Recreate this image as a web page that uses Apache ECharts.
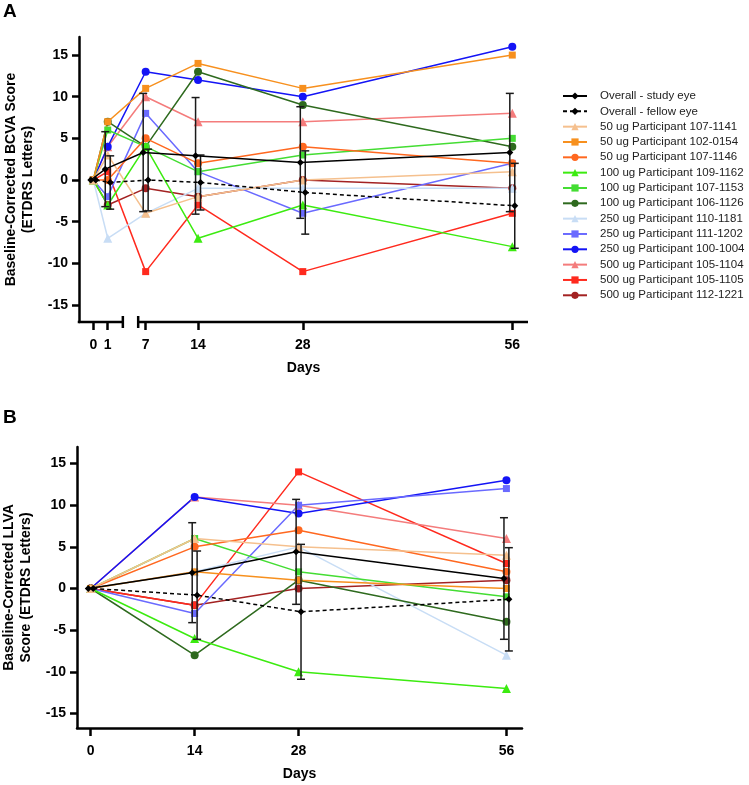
<!DOCTYPE html>
<html><head><meta charset="utf-8">
<script src="https://cdn.jsdelivr.net/npm/echarts@6/dist/echarts.min.js"></script>
<style>html,body{margin:0;padding:0;background:#fff}#c{width:749px;height:785px}</style>
</head><body><div id="c"></div>
<script>
// ---------- DATA ----------
const daysA = [0, 1, 7, 14, 28, 56];
const daysB = [0, 14, 28, 56];
const yTicks = [-15, -10, -5, 0, 5, 10, 15];

const overallNames = ['Overall - study eye', 'Overall - fellow eye'];
const participantNames = [
  '50 ug Participant 107-1141', '50 ug Participant 102-0154', '50 ug Participant 107-1146',
  '100 ug Participant 109-1162', '100 ug Participant 107-1153', '100 ug Participant 106-1126',
  '250 ug Participant 110-1181', '250 ug Participant 111-1202', '250 ug Participant 100-1004',
  '500 ug Participant 105-1104', '500 ug Participant 105-1105', '500 ug Participant 112-1221'
];

// Panel A: BCVA (days 0,1,7,14,28,56)
const studyA = [0, 1.3, 3.3, 2.9, 2.1, 3.3];
const studySdA = [0, 4.5, 7.1, 7.0, 6.7, 7.1];
const fellowA = [0, -0.3, 0, -0.3, -1.5, -3.1];
const fellowSdA = [0, 3.2, 3.7, 3.3, 5.0, 5.1];
const a_107_1141 = [0, 3, -4, -2, 0, 1];
const a_102_0154 = [0, 7, 11, 14, 11, 15];
const a_107_1146 = [0, 0, 5, 2, 4, 2];
const a_109_1162 = [0, -3, 4, -7, -3, -8];
const a_107_1153 = [0, 6, 4, 1, 3, 5];
const a_106_1126 = [0, 7, 4, 13, 9, 4];
const a_110_1181 = [0, -7, -4, -1, -1, -1];
const a_111_1202 = [0, -2, 8, 1, -4, 2];
const a_100_1004 = [0, 4, 13, 12, 10, 16];
const a_105_1104 = [0, 4, 10, 7, 7, 8];
const a_105_1105 = [0, 1, -11, -3, -11, -4];
const a_112_1221 = [0, -3, -1, -2, 0, -1];

// Panel B: LLVA (days 0,14,28,56)
const studyB = [0, 1.9, 4.4, 1.2];
const studySdB = [0, 6.0, 6.3, 7.3];
const fellowB = [0, -0.8, -2.8, -1.3];
const fellowSdB = [0, 5.3, 8.1, 6.2];
const b_107_1141 = [0, 6, 5, 4];
const b_102_0154 = [0, 2, 1, 0];
const b_107_1146 = [0, 5, 7, 2];
const b_109_1162 = [0, -6, -10, -12];
const b_107_1153 = [0, 6, 2, -1];
const b_106_1126 = [0, -8, 1, -4];
const b_110_1181 = [0, 2, 5, -8];
const b_111_1202 = [0, -3, 10, 12];
const b_100_1004 = [0, 11, 9, 13];
const b_105_1104 = [0, 11, 10, 6];
const b_105_1105 = [0, -2, 14, 3];
const b_112_1221 = [0, -2, 0, 1];

// ---------- STYLE ----------
const partA = [a_107_1141, a_102_0154, a_107_1146, a_109_1162, a_107_1153, a_106_1126,
               a_110_1181, a_111_1202, a_100_1004, a_105_1104, a_105_1105, a_112_1221];
const partB = [b_107_1141, b_102_0154, b_107_1146, b_109_1162, b_107_1153, b_106_1126,
               b_110_1181, b_111_1202, b_100_1004, b_105_1104, b_105_1105, b_112_1221];
const partColors = ['#F5C08E', '#F7901E', '#FF6820', '#3CEB10', '#44DD33', '#2E6A1E',
                    '#C8DDF5', '#6A6AFF', '#1414F5', '#F47C7C', '#FF2A1E', '#A32222'];
const partSymbols = ['triangle', 'rect', 'circle', 'triangle', 'rect', 'circle',
                     'triangle', 'rect', 'circle', 'triangle', 'rect', 'circle'];
const FONT = '"Liberation Sans", Arial, sans-serif';
const NUDGE = 0.33;            // horizontal dodge of the two overall series (axis units)
const SEG1 = 1.93;             // width of day 0->1 on the broken axis (axis units)
const BREAK_A = [3.95, 6.0];   // gap of the broken x axis in panel A (axis units)
function posA(d) { return d <= 1 ? d * SEG1 : d; }
function posB(d) { return d; }

const ticksPosA = daysA.map(posA);

function lineSeries(name, xs, ys, gi, color, symbol, size, dashed) {
  return {
    type: 'line', name: name, xAxisIndex: gi, yAxisIndex: gi,
    data: xs.map((x, i) => [x, ys[i]]),
    symbol: symbol, symbolSize: size, color: color,
    itemStyle: { color: color },
    lineStyle: { color: color, width: 1.5, type: dashed ? [4, 3] : 'solid' },
    emphasis: { disabled: true }, z: 2
  };
}
function errSeries(xs, m, s, gi) {
  return {
    type: 'custom', xAxisIndex: gi, yAxisIndex: gi, silent: true, z: 3,
    dimensions: ['x', 'm', 's'], encode: { x: 0, y: 1 },
    data: xs.map((x, i) => [x, m[i], s[i]]),
    renderItem: function (params, api) {
      const x = api.value(0), mm = api.value(1), ss = api.value(2);
      if (!ss) return null;
      const t = api.coord([x, mm + ss]), b = api.coord([x, mm - ss]);
      const w = 4, st = { stroke: '#1a1a1a', lineWidth: 1.5 };
      return { type: 'group', children: [
        { type: 'line', shape: { x1: t[0], y1: t[1], x2: b[0], y2: b[1] }, style: st },
        { type: 'line', shape: { x1: t[0] - w, y1: t[1], x2: t[0] + w, y2: t[1] }, style: st },
        { type: 'line', shape: { x1: b[0] - w, y1: b[1], x2: b[0] + w, y2: b[1] }, style: st }
      ]};
    }
  };
}

function panelSeries(days, posFn, parts, study, studySd, fellow, fellowSd, gi) {
  const xs = days.map(posFn);
  const out = [];
  // earlier legend entries are drawn on top, so add participants in reverse order
  for (let k = parts.length - 1; k >= 0; k--) {
    const sz = partSymbols[k] === 'triangle' ? 9 : (partSymbols[k] === 'rect' ? 7 : 8);
    out.push(lineSeries(participantNames[k], xs, parts[k], gi, partColors[k], partSymbols[k], sz, false));
  }
  const xsS = xs.map(x => x - NUDGE), xsF = xs.map(x => x + NUDGE);
  out.push(errSeries(xsF, fellow, fellowSd, gi));
  out.push(errSeries(xsS, study, studySd, gi));
  const f = lineSeries(overallNames[1], xsF, fellow, gi, '#000', 'diamond', 7, true); f.z = 4;
  const s = lineSeries(overallNames[0], xsS, study, gi, '#000', 'diamond', 7, false); s.z = 4;
  out.push(f, s);
  return out;
}

const axisTxt = { fontFamily: FONT, fontWeight: 'bold', fontSize: 14, color: '#000' };
function yAxisDef(gi, min, max, name, gap) {
  return {
    type: 'value', gridIndex: gi, min: min, max: max,
    name: name, nameLocation: 'middle', nameRotate: 90, nameGap: gap,
    nameTextStyle: Object.assign({ lineHeight: 17 }, axisTxt),
    axisLine: { show: true, onZero: false, lineStyle: { color: '#000', width: 2.5 } },
    axisTick: { show: true, length: 7, customValues: yTicks, lineStyle: { color: '#000', width: 2.5 } },
    axisLabel: Object.assign({ margin: 11, customValues: yTicks }, axisTxt),
    splitLine: { show: false }
  };
}
function xAxisDef(gi, min, max, tickPos, tickLab, showLine) {
  return {
    type: 'value', gridIndex: gi, min: min, max: max,
    name: 'Days', nameLocation: 'middle', nameGap: 39, nameTextStyle: axisTxt,
    axisLine: { show: showLine, onZero: false, lineStyle: { color: '#000', width: 2.5 } },
    axisTick: { show: true, length: 8, customValues: tickPos, lineStyle: { color: '#000', width: 2.5 } },
    axisLabel: Object.assign({ margin: 16, customValues: tickPos,
      formatter: v => { let i = tickPos.findIndex(p => Math.abs(p - v) < 1e-6); return i >= 0 ? String(tickLab[i]) : ''; } }, axisTxt),
    splitLine: { show: false }
  };
}

const chart = echarts.init(document.getElementById('c'), null, { renderer: 'canvas' });
const option = {
  animation: false,
  backgroundColor: '#fff',
  title: [
    { text: 'A', left: 3, top: 2, padding: 0, textStyle: { fontFamily: FONT, fontWeight: 'bold', fontSize: 19, color: '#000' } },
    { text: 'B', left: 3, top: 408, padding: 0, textStyle: { fontFamily: FONT, fontWeight: 'bold', fontSize: 19, color: '#000' } }
  ],
  grid: [
    { left: 79, top: 37, width: 449, height: 285, containLabel: false, outerBoundsMode: 'none' },
    { left: 77, top: 447, width: 445, height: 281, containLabel: false, outerBoundsMode: 'none' }
  ],
  xAxis: [
    xAxisDef(0, -1.91, 58.1, ticksPosA, daysA, false),
    xAxisDef(1, -1.85, 58.1, daysB.map(posB), daysB, true)
  ],
  yAxis: [
    yAxisDef(0, -17.05, 17.17, 'Baseline-Corrected BCVA Score\n(ETDRS Letters)', 42),
    yAxisDef(1, -16.75, 16.99, 'Baseline-Corrected LLVA\nScore (ETDRS Letters)', 40)
  ],
  legend: {
    orient: 'vertical', left: 562, top: 90, padding: 0,
    itemWidth: 24, itemHeight: 9, itemGap: 3.33,
    data: overallNames.concat(participantNames),
    selectedMode: false,
    textStyle: { fontFamily: FONT, fontSize: 11.5, color: '#222', lineHeight: 9, padding: [0, 0, 0, 8] }
  },
  series: [].concat(
    panelSeries(daysA, posA, partA, studyA, studySdA, fellowA, fellowSdA, 0),
    panelSeries(daysB, posB, partB, studyB, studySdB, fellowB, fellowSdB, 1)
  )
};
chart.setOption(option);

// broken x-axis line of panel A, placed through the axis scale
const yBot = option.yAxis[0].min;
const pL = chart.convertToPixel({ xAxisIndex: 0, yAxisIndex: 0 }, [option.xAxis[0].min, yBot]);
const pB0 = chart.convertToPixel({ xAxisIndex: 0, yAxisIndex: 0 }, [BREAK_A[0], yBot]);
const pB1 = chart.convertToPixel({ xAxisIndex: 0, yAxisIndex: 0 }, [BREAK_A[1], yBot]);
const pR = chart.convertToPixel({ xAxisIndex: 0, yAxisIndex: 0 }, [option.xAxis[0].max, yBot]);
const ax = { stroke: '#000', lineWidth: 2.5 };
chart.setOption({ graphic: [
  { type: 'line', shape: { x1: pL[0] - 1.25, y1: pL[1], x2: pB0[0], y2: pB0[1] }, style: ax, z: 10 },
  { type: 'line', shape: { x1: pB1[0], y1: pB1[1], x2: pR[0], y2: pR[1] }, style: ax, z: 10 },
  { type: 'line', shape: { x1: pB0[0], y1: pB0[1] - 6, x2: pB0[0], y2: pB0[1] + 6 }, style: ax, z: 10 },
  { type: 'line', shape: { x1: pB1[0], y1: pB1[1] - 6, x2: pB1[0], y2: pB1[1] + 6 }, style: ax, z: 10 }
]});
</script></body></html>
